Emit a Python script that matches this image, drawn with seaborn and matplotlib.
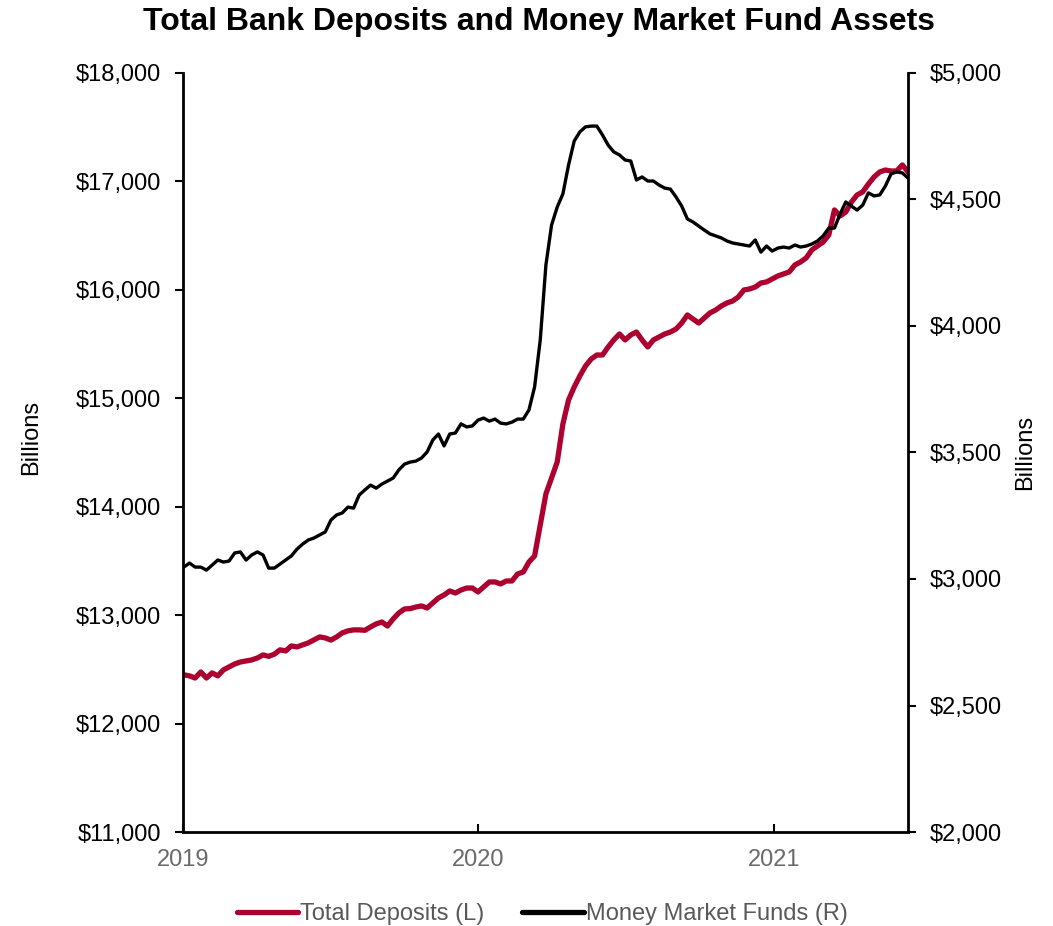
import matplotlib
matplotlib.use("Agg")
import matplotlib.pyplot as plt
from matplotlib.ticker import FuncFormatter, FixedLocator
import pandas as pd
import seaborn as sns

# Weekly observations, Wednesdays from 2019-01-02
dates = pd.date_range("2019-01-02", periods=129, freq="7D")

# Total deposits, billions of dollars (left axis)
deposits = [
    12450, 12440, 12420, 12476, 12420, 12467, 12440, 12495, 12522, 12550,
    12568, 12577, 12587, 12605, 12633, 12620, 12640, 12680, 12670, 12716,
    12707, 12725, 12744, 12771, 12799, 12790, 12770, 12799, 12836, 12855,
    12864, 12864, 12860, 12891, 12919, 12937, 12900, 12965, 13020, 13057,
    13060, 13075, 13085, 13066, 13112, 13158, 13186, 13223, 13204, 13232,
    13250, 13250, 13214, 13260, 13306, 13306, 13288, 13315, 13315, 13380,
    13398, 13490, 13546, 13832, 14118, 14265, 14413, 14763, 14984, 15104,
    15206, 15298, 15362, 15399, 15399, 15473, 15538, 15593, 15538, 15584,
    15611, 15538, 15473, 15538, 15566, 15593, 15611, 15639, 15694, 15768,
    15731, 15694, 15741, 15787, 15814, 15851, 15879, 15897, 15934, 15999,
    16008, 16026, 16063, 16073, 16100, 16128, 16146, 16165, 16229, 16257,
    16294, 16368, 16405, 16441, 16506, 16737, 16681, 16718, 16810, 16875,
    16903, 16976, 17041, 17087, 17105, 17096, 17096, 17152, 17087,
]

# Money market fund assets, billions of dollars (right axis)
mmf = [
    3047, 3063, 3047, 3047, 3035, 3055, 3075, 3067, 3071, 3103,
    3107, 3075, 3095, 3107, 3095, 3043, 3043, 3059, 3075, 3091,
    3118, 3138, 3154, 3162, 3174, 3186, 3233, 3253, 3261, 3284,
    3280, 3332, 3352, 3371, 3359, 3375, 3387, 3399, 3431, 3454,
    3462, 3466, 3478, 3502, 3549, 3573, 3526, 3573, 3577, 3613,
    3601, 3605, 3628, 3636, 3624, 3632, 3616, 3613, 3620, 3632,
    3632, 3668, 3759, 3945, 4241, 4399, 4470, 4522, 4636, 4731,
    4767, 4787, 4790, 4790, 4755, 4715, 4688, 4676, 4656, 4652,
    4577, 4589, 4573, 4573, 4557, 4545, 4541, 4510, 4474, 4423,
    4411, 4395, 4379, 4364, 4356, 4348, 4336, 4328, 4324, 4320,
    4316, 4340, 4292, 4316, 4296, 4308, 4312, 4308, 4320, 4312,
    4316, 4324, 4336, 4356, 4387, 4387, 4443, 4490, 4474, 4458,
    4478, 4526, 4514, 4518, 4553, 4601, 4609, 4605, 4585,
]

series_labels = ["Total Deposits (L)", "Money Market Funds (R)"]
year_ticks = ["2019", "2020", "2021"]
left_ticks = [11000, 12000, 13000, 14000, 15000, 16000, 17000, 18000]
right_ticks = [2000, 2500, 3000, 3500, 4000, 4500, 5000]

RED = "#AD0230"
GREY = "#595959"

sns.set_style("white")
plt.rcParams["font.family"] = ["Liberation Sans", "DejaVu Sans"]
plt.rcParams["font.size"] = 17
plt.rcParams["text.color"] = "black"

df = pd.DataFrame({"date": dates, "deposits": deposits, "mmf": mmf})

fig = plt.figure(figsize=(10.53, 9.26), dpi=100)
ax = fig.add_axes([0.1738, 0.1015, 0.6885, 0.8197])
ax2 = ax.twinx()

sns.lineplot(data=df, x="date", y="deposits", ax=ax, color=RED,
             linewidth=3.8, label=series_labels[0], legend=False)
sns.lineplot(data=df, x="date", y="mmf", ax=ax2, color="black",
             linewidth=2.4, label=series_labels[1], legend=False)

ax.set_xlim(pd.Timestamp("2019-01-01"), pd.Timestamp("2021-06-16"))
ax.set_ylim(11000, 18000)
ax2.set_ylim(2000, 5000)

money = FuncFormatter(lambda v, p: f"${v:,.0f}")
ax.yaxis.set_major_locator(FixedLocator(left_ticks))
ax.yaxis.set_major_formatter(money)
ax2.yaxis.set_major_locator(FixedLocator(right_ticks))
ax2.yaxis.set_major_formatter(money)

ax.set_xticks([pd.Timestamp(f"{y}-01-01") for y in year_ticks])
ax.set_xticklabels(year_ticks)

for a in (ax, ax2):
    for side in ("left", "right", "bottom", "top"):
        a.spines[side].set_visible(False)
ax.spines["left"].set_visible(True)
ax.spines["bottom"].set_visible(True)
ax2.spines["right"].set_visible(True)
for sp in (ax.spines["left"], ax.spines["bottom"], ax2.spines["right"]):
    sp.set_color("black")
    sp.set_linewidth(2.0)

ax.tick_params(axis="y", direction="out", length=6, width=1.5,
               colors="black", labelsize=17, pad=10, left=True)
ax2.tick_params(axis="y", direction="out", length=6, width=1.5,
                colors="black", labelsize=17, pad=10, right=True)
ax.tick_params(axis="x", direction="in", length=6, width=1.5,
               color="black", labelcolor="#6a6a6a", labelsize=17, pad=12,
               bottom=True)

ax.set_xlabel("")
ax.set_ylabel("Billions", fontsize=17, color="black")
ax.yaxis.set_label_coords(-0.194, 0.52)
ax2.set_ylabel("Billions", fontsize=17, color="black", rotation=90)
ax2.yaxis.set_label_coords(1.147, 0.50)

fig.suptitle("Total Bank Deposits and Money Market Fund Assets",
             fontsize=23, fontweight="bold", color="black",
             x=0.512, y=0.976, va="center")

h1, l1 = ax.get_legend_handles_labels()
h2, l2 = ax2.get_legend_handles_labels()
leg = fig.legend(h1 + h2, l1 + l2, loc="center",
                 bbox_to_anchor=(0.515, 0.013), ncol=2, frameon=False,
                 fontsize=17, handlelength=2.6, handletextpad=0.1,
                 columnspacing=1.6)
for t in leg.get_texts():
    t.set_color(GREY)
for line in leg.get_lines():
    line.set_linewidth(3.8)

fig.savefig("out.png", dpi=100, facecolor="white")
